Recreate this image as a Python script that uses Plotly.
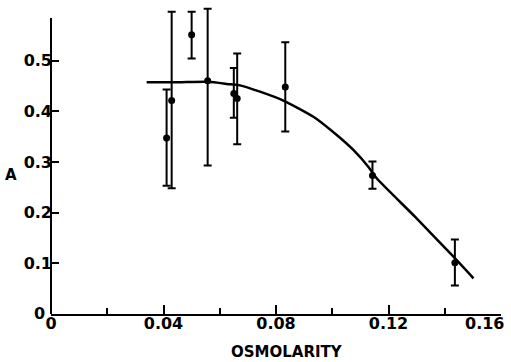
import plotly.graph_objects as go

# Data points (osmolarity, A) with asymmetric error bars
osm = [0.0411, 0.0429, 0.0500, 0.0557, 0.0650, 0.0662, 0.0833, 0.1143, 0.1436]
a_val = [0.347, 0.421, 0.551, 0.460, 0.435, 0.425, 0.448, 0.273, 0.101]
err_hi = [0.443, 0.596, 0.596, 0.602, 0.485, 0.514, 0.536, 0.301, 0.147]
err_lo = [0.253, 0.248, 0.504, 0.293, 0.387, 0.335, 0.360, 0.247, 0.056]

# Fitted curve
curve_x = [0.034, 0.045, 0.0559, 0.0637, 0.0672, 0.0743, 0.0826, 0.0933, 0.1016,
           0.1075, 0.1128, 0.1158, 0.1294, 0.1431, 0.1502]
curve_y = [0.457, 0.457, 0.458, 0.453, 0.451, 0.4385, 0.421, 0.389, 0.353,
           0.3235, 0.2905, 0.2677, 0.192, 0.113, 0.0704]

x_ticks = [0, 0.04, 0.08, 0.12, 0.16]
x_labels = ["0", "0.04", "0.08", "0.12", ""]
x_last_label = "0.16"
y_ticks = [0, 0.1, 0.2, 0.3, 0.4, 0.5]
y_labels = ["", "0.1", "0.2", "0.3", "0.4", "0.5"]
y_zero_label = "0"

FONT = "DejaVu Sans"
TICKFONT = dict(family=FONT, size=16, color="black", weight="bold")

fig = go.Figure()
fig.add_trace(go.Scatter(
    x=curve_x, y=curve_y, mode="lines",
    line=dict(color="black", width=2.5, shape="spline", smoothing=0.6),
    hoverinfo="skip", showlegend=False,
))
fig.add_trace(go.Scatter(
    x=osm, y=a_val, mode="markers",
    marker=dict(color="black", size=7),
    error_y=dict(
        type="data", symmetric=False,
        array=[h - v for h, v in zip(err_hi, a_val)],
        arrayminus=[v - l for v, l in zip(a_val, err_lo)],
        color="black", thickness=2, width=4,
    ),
    showlegend=False,
))

# y-axis line drawn only up to the top of the original axis
fig.add_shape(type="line", xref="paper", yref="y", x0=0, x1=0, y0=0, y1=0.584,
              line=dict(color="black", width=2))

fig.add_annotation(text="A", xref="paper", yref="y", x=-0.088, y=0.275,
                   showarrow=False, font=dict(family=FONT, size=15, color="black", weight="bold"),
                   xanchor="center", yanchor="middle")
fig.add_annotation(text="OSMOLARITY", xref="paper", yref="paper", x=0.525, y=-0.123,
                   showarrow=False, font=dict(family=FONT, size=15, color="black", weight="bold"),
                   xanchor="center", yanchor="middle")
# last x tick label, kept inside the page edge
fig.add_annotation(text=x_last_label, xref="x", yref="paper", x=x_ticks[-1], y=0,
                   xshift=5, yshift=2, showarrow=False, font=TICKFONT,
                   xanchor="right", yanchor="top")
# y zero label, set a little left of the others as in the original
fig.add_annotation(text=y_zero_label, xref="paper", yref="y", x=0, y=y_ticks[0],
                   xshift=-4, yshift=1, showarrow=False, font=TICKFONT,
                   xanchor="right", yanchor="middle")

fig.update_layout(
    width=511, height=362,
    margin=dict(l=51, r=10, t=5, b=48, autoexpand=False),
    paper_bgcolor="white", plot_bgcolor="white",
    font=dict(family=FONT, size=14, color="black", weight="bold"),
    xaxis=dict(
        range=[0, 0.16], tickvals=x_ticks, ticktext=x_labels,
        showgrid=False, zeroline=False, automargin=False,
        showline=True, linecolor="black", linewidth=2,
        ticks="inside", ticklen=9, tickwidth=2, tickcolor="black",
        minor=dict(dtick=0.02, tick0=0, ticks="inside", ticklen=6, tickwidth=2, tickcolor="black"),
        tickfont=TICKFONT,
        ticklabelstandoff=-6,
    ),
    yaxis=dict(
        range=[0, 0.6095], tickvals=y_ticks, ticktext=y_labels,
        showgrid=False, zeroline=False, showline=False, automargin=False,
        ticks="inside", ticklen=8, tickwidth=2, tickcolor="black",
        tickfont=TICKFONT,
        ticklabelstandoff=-2,
    ),
)

fig.write_html("out.html", post_script="document.body.style.margin='0';",
               config={"displayModeBar": False})
